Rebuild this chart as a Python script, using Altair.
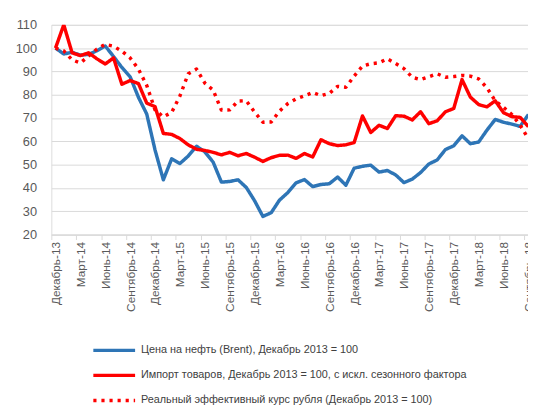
import json
import altair as alt
import pandas as pd

tick_labels = ["Декабрь-13", "Март-14", "Июнь-14", "Сентябрь-14", "Декабрь-14",
               "Март-15", "Июнь-15", "Сентябрь-15", "Декабрь-15", "Март-16",
               "Июнь-16", "Сентябрь-16", "Декабрь-16", "Март-17", "Июнь-17",
               "Сентябрь-17", "Декабрь-17", "Март-18", "Июнь-18", "Сентябрь-18"]

series_names = ["Цена на нефть (Brent), Декабрь 2013 = 100",
                "Импорт товаров, Декабрь 2013 = 100, с искл. сезонного фактора",
                "Реальный эффективный курс рубля (Декабрь 2013 = 100)"]

brent = [100, 97.5, 98.2, 97, 97.3, 98.9, 100.9, 96.4, 91.7, 87.7,
         78.9, 71.7, 56.3, 43.5, 52.5, 50.5, 53.7, 57.9, 55.5, 51.1,
         42.5, 42.8, 43.5, 40.2, 34.5, 27.8, 29.4, 34.8, 38, 42.2,
         43.6, 40.6, 41.5, 41.8, 44.7, 41.2, 48.5, 49.3, 49.8, 46.8,
         47.5, 45.6, 42.3, 43.8, 46.6, 50.3, 52, 56.5, 58.1, 62.4,
         59, 59.7, 64.8, 69.4, 68.2, 67.4, 66.4, 71.5]

imports = [100, 110, 98, 96.8, 98, 95.4, 93.2, 95.8, 84.5, 86.1,
           84.8, 76.4, 74.9, 63.4, 63, 61.2, 58.5, 56.6, 56.1, 55.3,
           54.2, 55.3, 53.8, 54.8, 53.2, 51.4, 53, 54, 54.1, 52.7,
           54.8, 53.3, 60.7, 59, 58.2, 58.5, 59.5, 70.9, 63.8, 66.9,
           65.5, 71, 70.8, 69.2, 72.7, 67.6, 68.8, 72.7, 74.1, 86.5,
           79, 75.8, 74.8, 77.4, 72.3, 70.6, 70.3, 66.3]

reer = [100, 98.8, 95, 93.6, 96.6, 99.6, 101.6, 100.8, 98.7, 95.8,
        91, 84, 73.5, 70.5, 72.4, 79.5, 89, 91, 85, 82,
        73.4, 73.5, 77.3, 77.4, 72.6, 68.2, 68.3, 73, 76.2, 78.2,
        79.5, 81, 79.6, 80.6, 83.6, 83.2, 88, 92.3, 93.3, 93.7,
        95.4, 93.4, 91.2, 87.5, 86.5, 87.7, 89, 87.5, 87.8, 88.3,
        88, 86.8, 83, 77.4, 74.6, 71.5, 67, 61]

y_ticks = [20, 30, 40, 50, 60, 70, 80, 90, 100, 110]

colors = ["#2E75B6", "#FF0000", "#FF0000"]
dashes = [[1, 0], [1, 0], [3.2, 5.0]]

rows = []
for name, vals in zip(series_names, [brent, imports, reer]):
    for i, v in enumerate(vals):
        rows.append({"i": i, "value": v, "series": name})
df = pd.DataFrame(rows)

tick_values = [3 * k - 0.5 for k in range(len(tick_labels))]
label_expr = json.dumps(tick_labels, ensure_ascii=False) + "[round((datum.value + 0.5) / 3)]"

FONT = "Liberation Sans"


def make_legend():
    return alt.Legend(
        title=None, orient="none", legendX=53.85, legendY=320.5,
        direction="vertical", symbolType="M-2.65,0H2.65", symbolSize=256,
        symbolStrokeWidth=3.4, labelFont=FONT, labelFontSize=11,
        labelColor="#404040", labelLimit=600, labelOffset=17.15,
        rowPadding=8.5, padding=0,
    )


chart = alt.Chart(df).mark_line(strokeWidth=3.5, clip=True, strokeJoin="round").encode(
    x=alt.X("i:Q",
            scale=alt.Scale(domain=[-0.5, 56.95], nice=False, zero=False),
            axis=alt.Axis(values=tick_values, labelExpr=label_expr, title=None, grid=False,
                          labelAngle=270, labelFontSize=12, labelColor="#595959",
                          labelFont=FONT, labelPadding=2, labelOffset=4.2,
                          labelFlush=False, labelOverlap=False, tickSize=5,
                          tickColor="#D9D9D9", domainColor="#D9D9D9",
                          tickWidth=1, domainWidth=1)),
    y=alt.Y("value:Q",
            scale=alt.Scale(domain=[20, 110], nice=False, zero=False),
            axis=alt.Axis(values=y_ticks, title=None, ticks=False, domain=False,
                          labelFontSize=13, labelColor="#595959", labelFont=FONT,
                          labelPadding=15, gridColor="#D9D9D9", gridWidth=1)),
    color=alt.Color("series:N", scale=alt.Scale(domain=series_names, range=colors),
                    legend=make_legend()),
    strokeDash=alt.StrokeDash("series:N", scale=alt.Scale(domain=series_names, range=dashes),
                              legend=make_legend()),
).properties(
    width=484, height=213,
    autosize=alt.AutoSizeParams(type="none"),
    padding={"left": 44, "top": 14, "right": 0, "bottom": 173},
).configure_view(stroke=None).configure(background="white")

chart.save("out.html", embed_options={"renderer": "svg", "actions": False})
